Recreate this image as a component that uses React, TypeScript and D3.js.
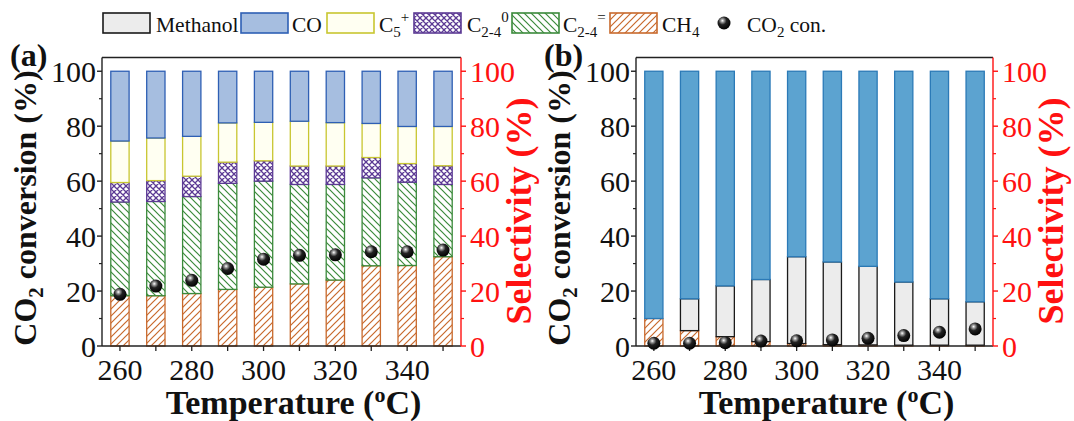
import React from 'react';
import * as d3 from 'd3';

const temperatures = [260, 270, 280, 290, 300, 310, 320, 330, 340, 350];
const xTickLabels = [260, 280, 300, 320, 340];
const yTickValues = [0, 20, 40, 60, 80, 100];
const yMinorValues = [10, 30, 50, 70, 90];

// Panel (a): product selectivity (%) and CO2 conversion (%)
const aCH4 = [18.3, 18.3, 19.1, 20.6, 21.4, 22.6, 24.0, 29.2, 29.3, 32.5];
const aC24Olefin = [34.1, 34.3, 35.3, 38.6, 38.6, 36.2, 34.8, 32.0, 30.3, 26.3];
const aC24Paraffin = [7.1, 7.6, 7.4, 7.7, 7.4, 6.7, 6.7, 7.4, 6.8, 6.8];
const aC5Plus = [15.1, 15.5, 14.5, 14.3, 14.0, 16.3, 15.8, 12.4, 13.5, 14.3];
const aMethanol = [0, 0, 0, 0, 0, 0, 0, 0, 0, 0];
const aCO = [25.4, 24.3, 23.7, 18.8, 18.6, 18.2, 18.7, 19.0, 20.1, 20.1];
const aConversion = [18.8, 21.8, 23.9, 28.2, 31.6, 33.0, 33.2, 34.3, 34.3, 34.9];

// Panel (b)
const bCH4 = [10.0, 5.6, 3.4, 1.6, 0.9, 0.5, 0.4, 0.3, 0.3, 0.3];
const bC24Olefin = [0, 0, 0, 0, 0, 0, 0, 0, 0, 0];
const bC24Paraffin = [0, 0, 0, 0, 0, 0, 0, 0, 0, 0];
const bC5Plus = [0, 0, 0, 0, 0, 0, 0, 0, 0, 0];
const bMethanol = [0, 11.6, 18.5, 22.6, 31.6, 30.1, 28.6, 23.0, 16.9, 15.8];
const bCO = [90.0, 82.8, 78.1, 75.8, 67.5, 69.4, 71.0, 76.7, 82.8, 83.9];
const bConversion = [1.0, 1.0, 1.2, 1.8, 1.9, 2.2, 2.8, 3.8, 5.0, 6.2];

const seriesKeys = ['CH4', 'C24Olefin', 'C24Paraffin', 'C5Plus', 'Methanol', 'CO'];

const buildRows = (ch4, ole, par, c5, meoh, co) =>
  temperatures.map((t, i) => ({
    T: t,
    CH4: ch4[i],
    C24Olefin: ole[i],
    C24Paraffin: par[i],
    C5Plus: c5[i],
    Methanol: meoh[i],
    CO: co[i],
  }));

const FONT = 'Liberation Serif, Tinos, Times New Roman, DejaVu Serif, serif';
const RED = '#ff1111';

const styleA = {
  CH4: { fill: 'url(#hatchCH4)', stroke: '#c8692c' },
  C24Olefin: { fill: 'url(#hatchOlefin)', stroke: '#3b8a3b' },
  C24Paraffin: { fill: 'url(#hatchParaffin)', stroke: '#5c3a94' },
  C5Plus: { fill: '#fffff2', stroke: '#c8c630' },
  Methanol: { fill: '#ececec', stroke: '#1a1a1a' },
  CO: { fill: '#a6bee0', stroke: '#2e5fb4' },
};
const styleB = { ...styleA, CO: { fill: '#5ca3d0', stroke: '#2b7ab7' } };

const Y0 = 346;
const YTOP = 57.5;

function Panel({ left, right, rows, conversion, label, styles }) {
  const x = d3.scaleLinear().domain([255, 355]).range([left, right]);
  const y = d3.scaleLinear().domain([0, 105]).range([Y0, YTOP]);
  const stacked = d3.stack().keys(seriesKeys)(rows);
  const halfW = 2.55;

  return (
    <g style={{ fontFamily: FONT }}>
      {/* stacked bars */}
      {stacked.map((layer) => (
        <g key={layer.key}>
          {layer.map((d, i) => {
            const h = y(d[0]) - y(d[1]);
            if (h <= 0.01) return null;
            return (
              <rect
                key={i}
                x={x(rows[i].T - halfW)}
                y={y(d[1])}
                width={x(rows[i].T + halfW) - x(rows[i].T - halfW)}
                height={h}
                fill={styles[layer.key].fill}
                stroke={styles[layer.key].stroke}
                strokeWidth={1.3}
              />
            );
          })}
        </g>
      ))}

      {/* frame */}
      <line x1={left} x2={right} y1={YTOP} y2={YTOP} stroke="#222" strokeWidth={1.4} />
      <line x1={left} x2={left} y1={YTOP} y2={Y0} stroke="#222" strokeWidth={1.4} />
      <line x1={left} x2={right} y1={Y0} y2={Y0} stroke="#222" strokeWidth={1.4} />
      <line x1={right} x2={right} y1={YTOP} y2={Y0} stroke={RED} strokeWidth={1.4} />

      {/* left and right axes */}
      {yTickValues.map((v) => (
        <g key={'l' + v}>
          <line x1={left - 5} x2={left} y1={y(v)} y2={y(v)} stroke="#222" strokeWidth={1.4} />
          <text x={left - 6} y={y(v)} dy="0.35em" textAnchor="end" fontSize={30} fill="#111">
            {v}
          </text>
          <line x1={right} x2={right + 5} y1={y(v)} y2={y(v)} stroke={RED} strokeWidth={1.4} />
          <text x={right + 9} y={y(v)} dy="0.35em" textAnchor="start" fontSize={30} fill={RED}>
            {v}
          </text>
        </g>
      ))}
      {yMinorValues.map((v) => (
        <g key={'m' + v}>
          <line x1={left - 3} x2={left} y1={y(v)} y2={y(v)} stroke="#222" strokeWidth={1.2} />
          <line x1={right} x2={right + 3} y1={y(v)} y2={y(v)} stroke={RED} strokeWidth={1.2} />
        </g>
      ))}

      {/* bottom axis */}
      {temperatures.map((t) => (
        <line key={'t' + t} x1={x(t)} x2={x(t)} y1={Y0} y2={Y0 + 5} stroke="#222" strokeWidth={1.3} />
      ))}
      {xTickLabels.map((t) => (
        <text key={'xl' + t} x={x(t)} y={380} textAnchor="middle" fontSize={30} fill="#111">
          {t}
        </text>
      ))}

      {/* CO2 conversion markers */}
      {conversion.map((c, i) => (
        <circle key={'c' + i} cx={x(temperatures[i])} cy={y(c)} r={6.5} fill="url(#sphere)" />
      ))}

      {/* axis titles */}
      <text
        transform={`translate(${left - 66},208) rotate(-90)`}
        textAnchor="middle"
        fontSize={32}
        fontWeight="bold"
        fill="#111"
      >
        CO<tspan dy={7} fontSize={21}>2</tspan>
        <tspan dy={-7}> conversion (%)</tspan>
      </text>
      <text
        transform={`translate(${right + 70},211) rotate(-90)`}
        textAnchor="middle"
        fontSize={36}
        fontWeight="bold"
        fill={RED}
      >
        Selectivity (%)
      </text>
      <text x={(left + right) / 2 + 12} y={414} textAnchor="middle" fontSize={34} fontWeight="bold" fill="#111">
        Temperature (<tspan dy={-12} fontSize={22}>o</tspan>
        <tspan dy={12}>C)</tspan>
      </text>

      <text x={left - 92} y={66} fontSize={32} fontWeight="bold" fill="#111">
        {label}
      </text>
    </g>
  );
}

function Legend() {
  const sw = 47;
  const sh = 20;
  const top = 13;
  const base = 32;
  const fs = 21.5;
  const sub = 15;
  const items = [
    { x: 103, st: styleA.Methanol, tx: 156, text: <tspan>Methanol</tspan> },
    { x: 241, st: styleA.CO, tx: 292, text: <tspan>CO</tspan> },
    {
      x: 327,
      st: styleA.C5Plus,
      tx: 379,
      text: (
        <>
          <tspan>C</tspan>
          <tspan dy={5} fontSize={sub}>5</tspan>
          <tspan dy={-15} fontSize={sub}>+</tspan>
        </>
      ),
    },
    {
      x: 414,
      st: styleA.C24Paraffin,
      tx: 467,
      text: (
        <>
          <tspan>C</tspan>
          <tspan dy={5} fontSize={sub}>2-4</tspan>
          <tspan dy={-15} fontSize={sub}>0</tspan>
        </>
      ),
    },
    {
      x: 512,
      st: styleA.C24Olefin,
      tx: 563,
      text: (
        <>
          <tspan>C</tspan>
          <tspan dy={5} fontSize={sub}>2-4</tspan>
          <tspan dy={-15} fontSize={sub}>=</tspan>
        </>
      ),
    },
    {
      x: 610,
      st: styleA.CH4,
      tx: 662,
      text: (
        <>
          <tspan>CH</tspan>
          <tspan dy={5} fontSize={sub}>4</tspan>
        </>
      ),
    },
  ];
  return (
    <g style={{ fontFamily: FONT }}>
      {items.map((it, i) => (
        <g key={i}>
          <rect x={it.x} y={top} width={sw} height={sh} fill={it.st.fill} stroke={it.st.stroke} strokeWidth={1.6} />
          <text x={it.tx} y={base} fontSize={fs} fill="#111">
            {it.text}
          </text>
        </g>
      ))}
      <circle cx={724} cy={23} r={6.5} fill="url(#sphere)" />
      <text x={747} y={base} fontSize={fs} fill="#111">
        CO<tspan dy={5} fontSize={sub}>2</tspan>
        <tspan dy={-5}> con.</tspan>
      </text>
    </g>
  );
}

export default function App() {
  const rowsA = buildRows(aCH4, aC24Olefin, aC24Paraffin, aC5Plus, aMethanol, aCO);
  const rowsB = buildRows(bCH4, bC24Olefin, bC24Paraffin, bC5Plus, bMethanol, bCO);
  return (
    <div style={{ position: 'absolute', left: 0, top: 0 }}>
      <svg width={1074} height={421} viewBox="0 0 1074 421" style={{ display: 'block', background: '#fff' }}>
        <defs>
          <pattern id="hatchCH4" width={7} height={7} patternUnits="userSpaceOnUse">
            <rect width={7} height={7} fill="#fff" />
            <path d="M-1,1 l2,-2 M0,7 l7,-7 M6,8 l2,-2" stroke="#c8692c" strokeWidth={1.2} />
          </pattern>
          <pattern id="hatchOlefin" width={7} height={7} patternUnits="userSpaceOnUse">
            <rect width={7} height={7} fill="#fff" />
            <path d="M-1,6 l2,2 M0,0 l7,7 M6,-1 l2,2" stroke="#3b8a3b" strokeWidth={1.2} />
          </pattern>
          <pattern id="hatchParaffin" width={6} height={6} patternUnits="userSpaceOnUse">
            <rect width={6} height={6} fill="#fff" />
            <path
              d="M-1,1 l2,-2 M0,6 l6,-6 M5,7 l2,-2 M-1,5 l2,2 M0,0 l6,6 M5,-1 l2,2"
              stroke="#5c3a94"
              strokeWidth={1.3}
            />
          </pattern>
          <radialGradient id="sphere" cx="0.38" cy="0.32" r="0.7">
            <stop offset="0" stopColor="#ffffff" />
            <stop offset="0.18" stopColor="#9a9a9a" />
            <stop offset="0.45" stopColor="#222" />
            <stop offset="1" stopColor="#000" />
          </radialGradient>
        </defs>
        <Legend />
        <Panel left={102} right={461} rows={rowsA} conversion={aConversion} label="(a)" styles={styleA} />
        <Panel left={636} right={993} rows={rowsB} conversion={bConversion} label="(b)" styles={styleB} />
      </svg>
    </div>
  );
}
